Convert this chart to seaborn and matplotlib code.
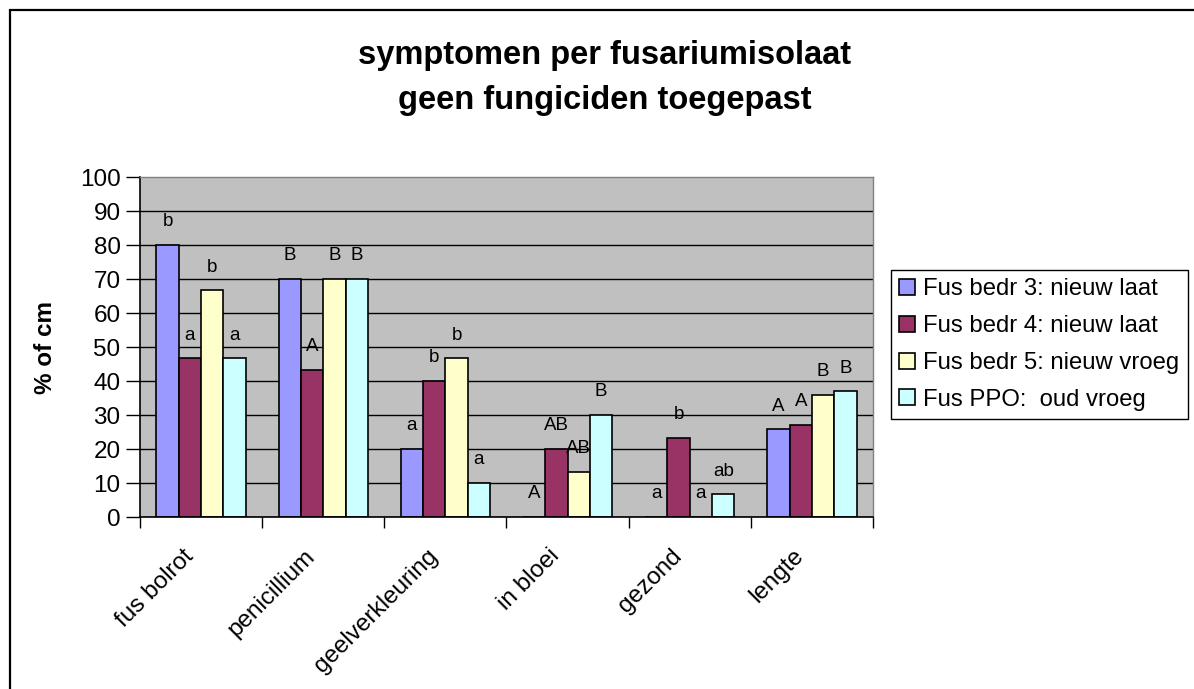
import numpy as np
import pandas as pd
import matplotlib
matplotlib.use("Agg")
import matplotlib.pyplot as plt
import matplotlib.transforms as mtransforms
from matplotlib.patches import Rectangle
import seaborn as sns

# ---------------- data ----------------
categories = ["fus bolrot", "penicillium", "geelverkleuring", "in bloei", "gezond", "lengte"]
series_names = ["Fus bedr 3: nieuw laat", "Fus bedr 4: nieuw laat",
                "Fus bedr 5: nieuw vroeg", "Fus PPO:  oud vroeg"]
bedr3 = [80, 70, 20, 0, 0, 25.8]
bedr4 = [46.7, 43.3, 40, 20, 23.3, 27.2]
bedr5 = [66.7, 70, 46.7, 13.3, 0, 36]
ppo = [46.7, 70, 10, 30, 6.7, 37]
letters_bedr3 = ["b", "B", "a", "A", "a", "A"]
letters_bedr4 = ["a", "A", "b", "AB", "b", "A"]
letters_bedr5 = ["b", "B", "b", "AB", "a", "B"]
letters_ppo = ["a", "B", "a", "B", "ab", "B"]
y_ticks = list(range(0, 101, 10))
colors = ["#9999FF", "#993366", "#FFFFCC", "#CCFFFF"]

all_values = [bedr3, bedr4, bedr5, ppo]
all_letters = [letters_bedr3, letters_bedr4, letters_bedr5, letters_ppo]

rows = []
for name, vals in zip(series_names, all_values):
    for cat, v in zip(categories, vals):
        rows.append({"categorie": cat, "waarde": v, "isolaat": name})
df = pd.DataFrame(rows)

# ---------------- style ----------------
sns.set_style("white")
plt.rcParams["font.family"] = ["Liberation Sans", "DejaVu Sans"]
plt.rcParams["text.color"] = "black"
plt.rcParams["axes.labelcolor"] = "black"
plt.rcParams["xtick.color"] = "black"
plt.rcParams["ytick.color"] = "black"

W, H = 1194, 689
fig = plt.figure(figsize=(W / 100, H / 100), dpi=100)
fig.patch.set_facecolor("white")
ax = fig.add_axes([140 / W, (H - 517) / H, 733 / W, 340 / H])
ax.set_facecolor("#C0C0C0")

sns.barplot(data=df, x="categorie", y="waarde", hue="isolaat",
            order=categories, hue_order=series_names, palette=colors,
            saturation=1, width=0.73, edgecolor="black", linewidth=1.2,
            errorbar=None, ax=ax)

# letters above bars
for cont, lets in zip(ax.containers, all_letters):
    for patch, lt in zip(cont.patches, lets):
        x = patch.get_x() + patch.get_width() / 2
        h = patch.get_height()
        ax.annotate(lt, (x, h), xytext=(0, 23), textcoords="offset pixels",
                    ha="center", va="center", fontsize=13.5, color="black")

# axes
ax.set_ylim(0, 100)
ax.set_xlim(-0.5, len(categories) - 0.5)
ax.set_yticks(y_ticks)
ax.set_yticklabels([str(t) for t in y_ticks], fontsize=17.5, color="black")
ax.tick_params(axis="y", direction="out", length=10, width=1, color="black", pad=4, left=True)
ax.set_xticks(range(len(categories)))
ax.set_xticklabels(categories, fontsize=17.5, rotation=45, ha="right", va="top",
                   rotation_mode="anchor", color="black")
ax.tick_params(axis="x", which="major", length=0, pad=0)
ax.set_xticks(np.arange(-0.5, len(categories), 1), minor=True)
ax.tick_params(axis="x", which="minor", direction="out", length=8, width=1,
               color="black", bottom=True)
off = mtransforms.ScaledTranslation(-0.19, -0.28, fig.dpi_scale_trans)
for lab in ax.get_xticklabels():
    lab.set_transform(lab.get_transform() + off)

ax.yaxis.grid(True, color="black", linewidth=1)
ax.xaxis.grid(False)
ax.set_axisbelow(True)
ax.get_ygridlines()[-1].set_visible(False)

for s in ["top", "right"]:
    ax.spines[s].set_color("#808080")
    ax.spines[s].set_linewidth(1)
for s in ["left", "bottom"]:
    ax.spines[s].set_color("black")
    ax.spines[s].set_linewidth(1.2)

ax.set_xlabel("")
ax.set_ylabel("% of cm", fontsize=17.5, fontweight="bold", color="black")
ax.yaxis.set_label_coords((57 - 140) / 733, 0.5)

# legend
old = ax.get_legend()
if old is not None:
    old.remove()
leg = ax.legend(handles=list(ax.containers), labels=series_names,
                loc="upper left", bbox_to_anchor=(891 / W, 1 - 270 / H),
                bbox_transform=fig.transFigure, frameon=True, fancybox=False,
                edgecolor="black", framealpha=1, facecolor="white",
                fontsize=17.2, handlelength=0.65, handleheight=0.65,
                handletextpad=0.35, labelspacing=0.62, borderpad=0.35,
                borderaxespad=0)
leg.get_frame().set_linewidth(1.0)
for t in leg.get_texts():
    t.set_color("black")

# title
fig.text(605 / W, 1 - 78 / H, "symptomen per fusariumisolaat\ngeen fungiciden toegepast",
         ha="center", va="center", fontsize=23.5, fontweight="bold",
         linespacing=1.58, color="black")

# chart border (left and top visible)
fig.add_artist(Rectangle((10 / W, -0.5), 1.2, 0.5 + (H - 10) / H,
                         transform=fig.transFigure, fill=False,
                         edgecolor="black", linewidth=1.6))

fig.savefig("out.png", dpi=100, facecolor="white")
